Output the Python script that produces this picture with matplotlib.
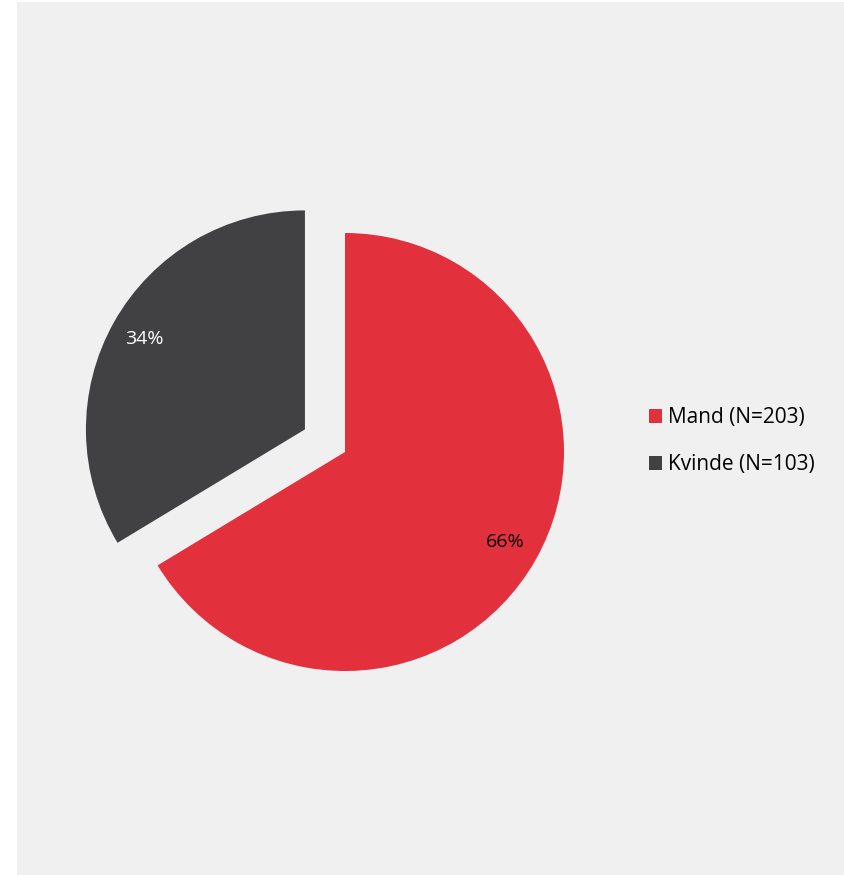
import matplotlib.pyplot as plt
from matplotlib.patches import Rectangle

labels = ["Mand (N=203)", "Kvinde (N=103)"]
counts = [203, 103]
colors = ["#E3303D", "#414042"]
pct_colors = ["black", "white"]

fig = plt.figure(figsize=(8.44, 8.75), dpi=100)
fig.patch.set_facecolor("white")

ax = fig.add_axes([0, 0, 1, 1])

# explode is in data units here (pixels), not a fraction of the radius
wedges, texts, autotexts = ax.pie(
    counts, colors=colors, startangle=90, counterclock=False,
    center=(345, 423), radius=219, explode=[0, 46],
    autopct="%1.0f%%", pctdistance=0.84,
    textprops={"fontsize": 14, "family": "Open Sans"},
    wedgeprops={"linewidth": 0},
)
for t, c in zip(autotexts, pct_colors):
    t.set_color(c)

# light grey panel behind the chart
ax.add_patch(Rectangle((17, 0), 827, 873, facecolor="#F0F0F0", edgecolor="none", zorder=0))

ax.set_xlim(0, 844)
ax.set_ylim(0, 875)
ax.set_aspect("equal")
ax.axis("off")

fig.legend(wedges, labels, loc="center left", bbox_to_anchor=(630 / 844, 1 - 441 / 875),
           frameon=False, handlelength=0.65, handleheight=0.65, handletextpad=0.25,
           labelspacing=1.25, prop={"family": "Open Sans", "size": 15})

fig.savefig("out.png", dpi=100)
